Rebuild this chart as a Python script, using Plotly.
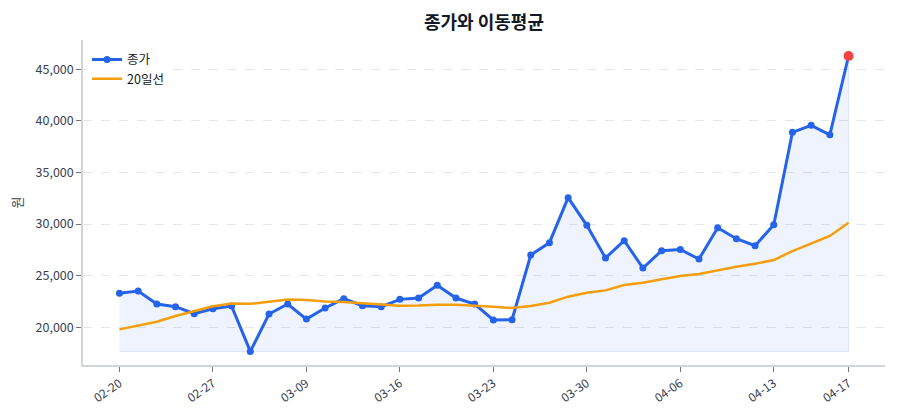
import plotly.graph_objects as go

dates = ["02-20", "02-23", "02-24", "02-25", "02-26", "02-27",
         "03-03", "03-04", "03-05", "03-06", "03-09", "03-10", "03-11", "03-12", "03-13",
         "03-16", "03-17", "03-18", "03-19", "03-20", "03-23", "03-24", "03-25", "03-26", "03-27",
         "03-30", "03-31", "04-01", "04-02", "04-03", "04-06", "04-07", "04-08", "04-09", "04-10",
         "04-13", "04-14", "04-15", "04-16", "04-17"]

close = [23300, 23520, 22260, 22000, 21320, 21800, 22060, 17670, 21290, 22260,
         20800, 21870, 22770, 22090, 22000, 22710, 22840, 24070, 22840, 22260,
         20710, 20740, 27010, 28200, 32560, 29880, 26720, 28400, 25750, 27420,
         27540, 26620, 29650, 28590, 27910, 29940, 38900, 39570, 38660, 46290]

ma20 = [19800, 20160, 20540, 21100, 21600, 22050, 22320, 22280, 22480, 22700,
        22650, 22500, 22450, 22350, 22230, 22100, 22120, 22190, 22180, 22120,
        22000, 21870, 22060, 22390, 22970, 23350, 23580, 24100, 24320, 24650,
        24980, 25160, 25550, 25870, 26160, 26520, 27390, 28140, 28850, 30140]

tick_labels = ["02-20", "02-27", "03-09", "03-16", "03-23", "03-30", "04-06", "04-13", "04-17"]

BLUE = "#2563eb"
ORANGE = "#f59e0b"
RED = "#ef4444"
FONT = "Noto Sans CJK KR"

base = min(close)
n = len(dates)
xs = list(range(n))

fig = go.Figure()
# fill baseline
fig.add_trace(go.Scatter(x=xs, y=[base] * n, mode="lines",
                         line=dict(color="rgba(37,99,235,0.12)", width=1),
                         showlegend=False, hoverinfo="skip"))
fig.add_trace(go.Scatter(x=xs, y=close, mode="lines", fill="tonexty",
                         fillcolor="rgba(37,99,235,0.08)",
                         line=dict(color="rgba(0,0,0,0)", width=0),
                         showlegend=False, hoverinfo="skip"))
# right edge of fill
fig.add_trace(go.Scatter(x=[xs[-1], xs[-1]], y=[base, close[-1]], mode="lines",
                         line=dict(color="rgba(37,99,235,0.12)", width=1),
                         showlegend=False, hoverinfo="skip"))
fig.add_trace(go.Scatter(x=xs, y=close, mode="lines+markers", name="종가",
                         line=dict(color=BLUE, width=3),
                         marker=dict(color=BLUE, size=7)))
fig.add_trace(go.Scatter(x=xs, y=ma20, mode="lines", name="20일선",
                         line=dict(color=ORANGE, width=2.5)))
fig.add_trace(go.Scatter(x=[xs[-1]], y=[close[-1]], mode="markers",
                         marker=dict(color=RED, size=10),
                         showlegend=False))

tickvals = [dates.index(t) for t in tick_labels]

fig.update_layout(
    width=900, height=420,
    margin=dict(l=83, r=15, t=40, b=55),
    paper_bgcolor="white", plot_bgcolor="white",
    font=dict(family=FONT, size=12, color="#374151"),
    title=dict(text="<b>종가와 이동평균</b>", x=0.5, xref="paper", y=0.945, yanchor="middle",
               font=dict(family=FONT, size=18, color="#111827")),
    showlegend=True,
    legend=dict(x=0.005, y=0.985, xanchor="left", yanchor="top", traceorder="normal",
                bgcolor="rgba(255,255,255,0.8)", font=dict(size=12.5, color="#111827"),
                itemwidth=30, tracegroupgap=0),
)
fig.update_xaxes(
    range=[-1.95, n - 1 + 1.95],
    tickmode="array", tickvals=tickvals, ticktext=tick_labels,
    tickangle=-35, ticks="outside", ticklen=5, tickcolor="#6b7280",
    showline=True, linecolor="#d1d5db", linewidth=1.5,
    showgrid=False, zeroline=False,
    tickfont=dict(size=12, color="#374151"),
)
fig.update_yaxes(
    range=[16350, 47840],
    tickvals=[20000, 25000, 30000, 35000, 40000, 45000],
    tickformat=",", ticks="outside", ticklen=5, tickcolor="#6b7280",
    showline=True, linecolor="#d1d5db", linewidth=1.5,
    showgrid=True, gridcolor="#e5e7eb", griddash="dash", gridwidth=1,
    zeroline=False,
    title=dict(text="원", font=dict(size=13, color="#374151"), standoff=10),
    tickfont=dict(size=12.5, color="#374151"),
)

fig.write_html("out.html")
